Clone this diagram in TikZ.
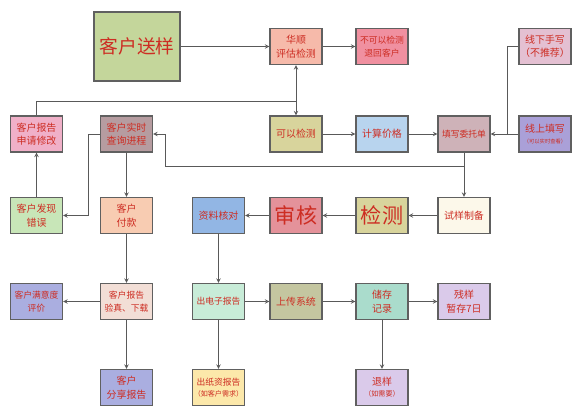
\documentclass[tikz,border=0pt]{standalone}
\usepackage{fontspec}
\setmainfont{Noto Sans CJK SC}
\usetikzlibrary{calc}
\definecolor{txtred}{RGB}{205,45,35}
\definecolor{cGreen}{RGB}{196,214,155}
\definecolor{cSalmon}{RGB}{246,186,170}
\definecolor{cPink}{RGB}{240,144,160}
\definecolor{cMauve}{RGB}{228,192,210}
\definecolor{cRose}{RGB}{240,176,200}
\definecolor{cGrey}{RGB}{182,156,160}
\definecolor{cOlive}{RGB}{216,212,156}
\definecolor{cSky}{RGB}{184,212,238}
\definecolor{cDusk}{RGB}{206,178,184}
\definecolor{cPurple}{RGB}{170,160,216}
\definecolor{cMint}{RGB}{200,230,184}
\definecolor{cPeach}{RGB}{248,204,178}
\definecolor{cBlue}{RGB}{146,182,228}
\definecolor{cRed}{RGB}{228,146,154}
\definecolor{cCream}{RGB}{252,248,234}
\definecolor{cIndigo}{RGB}{170,174,224}
\definecolor{cShell}{RGB}{242,222,214}
\definecolor{cAqua}{RGB}{200,236,216}
\definecolor{cKhaki}{RGB}{196,198,160}
\definecolor{cTeal}{RGB}{170,220,204}
\definecolor{cLilac}{RGB}{218,202,234}
\definecolor{cButter}{RGB}{252,232,170}
\newcommand{\notesize}{\fontsize{6}{7}\selectfont}
\newcommand{\hintsize}{\fontsize{4.5}{6}\selectfont}

\begin{document}
\begin{tikzpicture}[x=0.03cm, y=-0.03cm, >=stealth,
  box/.style={draw=gray!75!black, line width=1.1pt, inner sep=0, minimum width=1.56cm, minimum height=1.08cm, align=center, text=txtred, font=\fontsize{8.5}{11.5}\selectfont},
  five/.style={font=\fontsize{7.5}{11}\selectfont},
  big/.style={font=\fontsize{18}{20}\selectfont},
  line/.style={draw=gray!70!black, line width=0.7pt}]
\useasboundingbox (0,0) rectangle (585,416);
% first row
\node[box, fill=cGreen, minimum width=2.58cm, minimum height=2.07cm, font=\fontsize{16}{18}\selectfont] (songyang) at (137,46.5) {客户送样};
\node[box, fill=cSalmon] (huashun) at (296,46.5) {华顺\\评估检测};
\node[box, fill=cPink, five] (buke) at (382,46.5) {不可以检测\\退回客户};
\node[box, fill=cMauve] (xianxia) at (545,46.5) {线下手写\\（不推荐）};
% second row
\node[box, fill=cRose] (xiugai) at (36.5,134) {客户报告\\申请修改};
\node[box, fill=cGrey] (chaxun) at (126.5,134) {客户实时\\查询进程};
\node[box, fill=cOlive] (keyi) at (296,134) {可以检测};
\node[box, fill=cSky] (jiage) at (382,134) {计算价格};
\node[box, fill=cDusk, five] (weituo) at (464,134) {填写委托单};
\node[box, fill=cPurple] (xianshang) at (545,134) {线上填写\\[-2pt]{\hintsize（可以实时查看）}};
% third row
\node[box, fill=cMint] (cuowu) at (36.5,215.5) {客户发现\\错误};
\node[box, fill=cPeach] (fukuan) at (126.5,215.5) {客户\\付款};
\node[box, fill=cBlue] (hedui) at (218.5,215.5) {资料核对};
\node[box, fill=cRed, big] (shenhe) at (296,215.5) {审核};
\node[box, fill=cOlive, big] (jiance) at (382,215.5) {检测};
\node[box, fill=cCream] (shiyang) at (464,215.5) {试样制备};
% fourth row
\node[box, fill=cIndigo, five] (pingjia) at (36.5,301.5) {客户满意度\\评价};
\node[box, fill=cShell, five] (yanzhen) at (126.5,301.5) {客户报告\\验真、下载};
\node[box, fill=cAqua, five] (dianzi) at (218.5,301.5) {出电子报告};
\node[box, fill=cKhaki] (shangchuan) at (296,301.5) {上传系统};
\node[box, fill=cTeal] (chucun) at (382,301.5) {储存\\记录};
\node[box, fill=cLilac] (canyang) at (464,301.5) {残样\\暂存7日};
% fifth row
\node[box, fill=cIndigo] (fenxiang) at (126.5,387.5) {客户\\分享报告};
\node[box, fill=cButter, five] (zhizhi) at (218.5,387.5) {出纸资报告\\[-2pt]{\notesize（如客户需求）}};
\node[box, fill=cLilac] (tuiyang) at (382,387.5) {退样\\[-2pt]{\notesize（如需要）}};
% bends
\coordinate (c1) at (296,101);
\coordinate (c2) at (507,134);
\coordinate (c3) at (464,166);
\coordinate (c4) at (165,166);
\coordinate (c5) at (88,134);
% connectors
\draw[line,->] (songyang) -- (huashun);
\draw[line,->] (huashun) -- (buke);
\draw[line,<->] (huashun) -- (keyi);
\draw[line] (xiugai.north) |- (c1);
\draw[line,->] (keyi) -- (jiage);
\draw[line,->] (jiage) -- (weituo);
\draw[line,->] (xianshang) -- (weituo);
\draw[line] (xianxia.west) -| (c2);
\draw[line,->] (weituo) -- (shiyang);
\draw[line,->] (c3) -- (c4) |- (chaxun.east);
\draw[line,->] (chaxun.west) -- (c5) |- (cuowu.east);
\draw[line,->] (chaxun) -- (fukuan);
\draw[line,->] (cuowu) -- (xiugai);
\draw[line,->] (shiyang) -- (jiance);
\draw[line,->] (jiance) -- (shenhe);
\draw[line,->] (shenhe) -- (hedui);
\draw[line,->] (hedui) -- (dianzi);
\draw[line,->] (fukuan) -- (yanzhen);
\draw[line,->] (yanzhen) -- (pingjia);
\draw[line,->] (yanzhen) -- (fenxiang);
\draw[line,->] (dianzi) -- (shangchuan);
\draw[line,->] (shangchuan) -- (chucun);
\draw[line,->] (chucun) -- (canyang);
\draw[line,->] (dianzi) -- (zhizhi);
\draw[line,->] (chucun) -- (tuiyang);
\end{tikzpicture}
\end{document}
